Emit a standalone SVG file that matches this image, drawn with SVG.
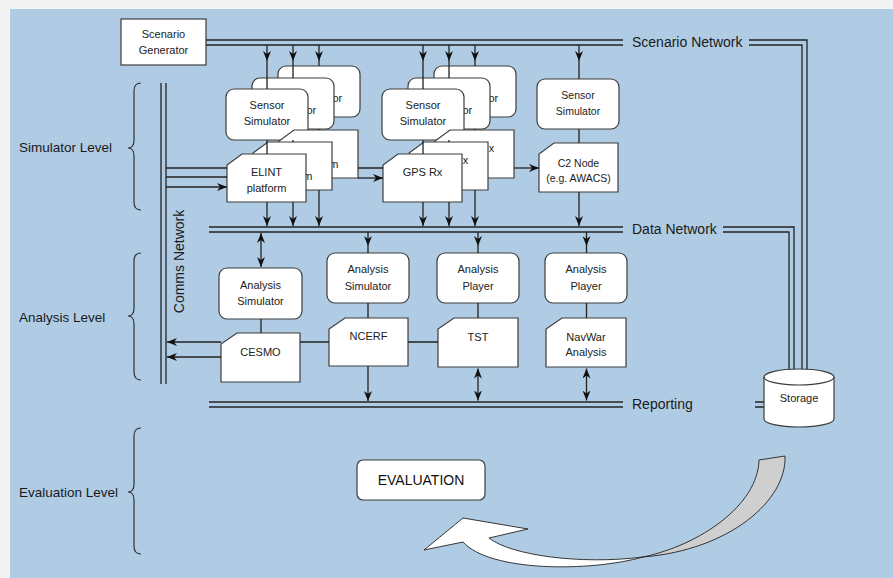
<svg xmlns="http://www.w3.org/2000/svg" width="893" height="578" viewBox="0 0 893 578">
<defs>
<marker id="ah" viewBox="0 0 10 8" refX="10" refY="4" markerWidth="10" markerHeight="8" markerUnits="userSpaceOnUse" orient="auto-start-reverse"><path d="M0,0 L10,4 L0,8 L3,4 Z" fill="#111"/></marker>
<path id="plat" d="M15,0 H79 V48 H0 V11 Z"/>
</defs>
<style>
.card{fill:#fff;stroke:#3c3c3c;stroke-width:1.2}
.t{font-family:"Liberation Sans",Arial,sans-serif;font-size:11px;fill:#222;text-anchor:middle}
.f{font-family:"Liberation Sans",Arial,sans-serif;font-size:11px;fill:#222}
.ts{font-family:"Liberation Sans",Arial,sans-serif;font-size:10.5px;fill:#222;text-anchor:middle}
.lbl{font-family:"Liberation Sans",Arial,sans-serif;font-size:13.5px;fill:#1a1a1a}
.net{font-family:"Liberation Sans",Arial,sans-serif;font-size:14px;fill:#1a1a1a}
.ln{fill:none;stroke:#222;stroke-width:1.3}
.ar{fill:none;stroke:#222;stroke-width:1.3;marker-end:url(#ah)}
.da{fill:none;stroke:#222;stroke-width:1.3;marker-start:url(#ah);marker-end:url(#ah)}
.br{fill:none;stroke:#333;stroke-width:1.2}
</style>
<rect width="893" height="578" fill="#f3f3f3"/>
<rect x="10" y="9" width="883" height="569" fill="#b0cce4"/>

<g id="labels">
<text class="lbl" x="19" y="152">Simulator Level</text>
<text class="lbl" x="19" y="322">Analysis Level</text>
<text class="lbl" x="19" y="497">Evaluation Level</text>
<path class="br" d="M141,83 Q134,83 134,91 V140 Q134,148 128,148 Q134,148 134,156 V202 Q134,210 141,210"/>
<path class="br" d="M141,253 Q134,253 134,261 V308 Q134,316 128,316 Q134,316 134,324 V372 Q134,380 141,380"/>
<path class="br" d="M141,428 Q134,428 134,436 V484 Q134,492 128,492 Q134,492 134,500 V546 Q134,554 141,554"/>
<text class="net" transform="translate(184,261.5) rotate(-90)" text-anchor="middle">Comms Network</text>
<text class="net" x="632" y="47">Scenario Network</text>
<text class="net" x="632" y="234">Data Network</text>
<text class="net" x="632" y="409">Reporting</text>
</g>

<g id="scenario-generator">
<rect class="card" x="121" y="19" width="85" height="46"/>
<text class="t" x="163.5" y="38">Scenario</text>
<text class="t" x="163.5" y="54">Generator</text>
</g>

<g id="elint-stack">
<rect class="card" x="278" y="66" width="82" height="51" rx="8"/>
<text class="f" x="332.5" y="102">or</text>
<rect class="card" x="252" y="78" width="82" height="51" rx="8"/>
<text class="f" x="306.5" y="114">or</text>
<rect class="card" x="226" y="89" width="82" height="51" rx="8"/>
<text class="t" x="267" y="109">Sensor</text><text class="t" x="267" y="125">Simulator</text>
<use href="#plat" class="card" x="279" y="130"/>
<text class="f" x="329.2" y="168">m</text>
<use href="#plat" class="card" x="253" y="142"/>
<text class="f" x="303.2" y="180">m</text>
<use href="#plat" class="card" x="227" y="154"/>
<text class="t" x="266.5" y="176">ELINT</text><text class="t" x="266.5" y="192">platform</text>
</g>

<g id="gps-stack">
<rect class="card" x="434" y="66" width="82" height="51" rx="8"/>
<text class="f" x="488.5" y="102">or</text>
<rect class="card" x="408" y="78" width="82" height="51" rx="8"/>
<text class="f" x="462.5" y="114">or</text>
<rect class="card" x="382" y="89" width="82" height="51" rx="8"/>
<text class="t" x="423" y="109">Sensor</text><text class="t" x="423" y="125">Simulator</text>
<use href="#plat" class="card" x="435" y="130"/>
<text class="f" x="488.8" y="152">x</text>
<use href="#plat" class="card" x="409" y="142"/>
<text class="f" x="462.8" y="164">x</text>
<use href="#plat" class="card" x="383" y="154"/>
<text class="t" x="422.5" y="176">GPS Rx</text>
</g>

<g id="c2-sensor">
<rect class="card" x="537" y="79" width="82" height="50" rx="8"/>
<text class="ts" x="578" y="99">Sensor</text><text class="ts" x="578" y="115">Simulator</text>
</g>
<g id="c2-node">
<path class="card" d="M554,143 H618 V192 H539 V154 Z"/>
<text class="ts" x="578.5" y="167">C2 Node</text><text class="ts" x="578.5" y="182">(e.g. AWACS)</text>
</g>

<g id="analysis-simulator-1">
<rect class="card" x="219" y="268" width="83" height="51" rx="8"/>
<text class="t" x="260.5" y="289">Analysis</text><text class="t" x="260.5" y="305">Simulator</text>
</g>
<g id="cesmo">
<path class="card" d="M237,333 H300 V382 H221 V344 Z"/>
<text class="t" x="260.5" y="356">CESMO</text>
</g>
<g id="analysis-simulator-2">
<rect class="card" x="327" y="253" width="82" height="50" rx="8"/>
<text class="t" x="368" y="273">Analysis</text><text class="t" x="368" y="290">Simulator</text>
</g>
<g id="ncerf">
<path class="card" d="M345,318 H408 V366 H329 V329 Z"/>
<text class="t" x="368.5" y="340">NCERF</text>
</g>
<g id="analysis-player-1">
<rect class="card" x="437" y="253" width="82" height="50" rx="8"/>
<text class="t" x="478" y="273">Analysis</text><text class="t" x="478" y="290">Player</text>
</g>
<g id="tst">
<path class="card" d="M454,318 H518 V367 H438 V329 Z"/>
<text class="t" x="478" y="341">TST</text>
</g>
<g id="analysis-player-2">
<rect class="card" x="545" y="253" width="82" height="50" rx="8"/>
<text class="t" x="586" y="273">Analysis</text><text class="t" x="586" y="290">Player</text>
</g>
<g id="navwar">
<path class="card" d="M562,318 H626 V367 H546 V329 Z"/>
<text class="t" x="586" y="341">NavWar</text><text class="t" x="586" y="356">Analysis</text>
</g>

<g id="connectors">
<path class="ln" d="M206,40 H623 M206,45 H623 M749,40 H807 V370 M749,45 H802 V370"/>
<path class="ln" d="M209,227 H623 M209,232 H623 M723,227 H794 V370 M723,232 H789 V370"/>
<path class="ln" d="M209,402 H623 M209,407 H623 M755,402 H764 M755,407 H764"/>
<path class="ln" d="M161,83 V384 M166,83 V384"/>
<path class="ar" d="M267,45 V61"/><path class="ar" d="M293,45 V61"/><path class="ar" d="M319,45 V61"/>
<path class="ar" d="M423,45 V61"/><path class="ar" d="M449,45 V61"/><path class="ar" d="M475,45 V61"/>
<path class="ar" d="M579,45 V61"/>
<path class="ln" d="M267,61 V89 M293,61 V78 M319,61 V66 M423,61 V89 M449,61 V78 M475,61 V66 M579,61 V79"/>
<path class="ln" d="M267,140 V154 M293,140 V142 M319,129 V130 M423,140 V154 M449,140 V142 M475,129 V130 M579,129 V143"/>
<path class="ar" d="M267,202 V226"/><path class="ar" d="M293,202 V226"/><path class="ar" d="M319,190 V226"/>
<path class="ar" d="M423,202 V226"/><path class="ar" d="M449,202 V226"/><path class="ar" d="M475,190 V226"/>
<path class="ar" d="M579,192 V226"/>
<path class="ln" d="M166,168 H227 M166,177 H227 M358,168 H383"/>
<path class="ar" d="M166,187 H227"/>
<path class="ar" d="M358,178 H383"/>
<path class="ar" d="M514,168 H539"/>
<path class="da" d="M261,233 V267"/>
<path class="ln" d="M261,319 V333"/>
<path class="ar" d="M368,232 V246"/><path class="ar" d="M478,232 V246"/><path class="ar" d="M586.5,232 V246"/>
<path class="ln" d="M368,246 V253 M478,246 V253 M586.5,246 V253 M368,303 V318 M478,303 V318 M586.5,303 V318"/>
<path class="ar" d="M368,366 V401"/>
<path class="da" d="M478,368.5 V400.5"/>
<path class="da" d="M586.5,368.5 V400.5"/>
<path class="ar" d="M221,342 H167"/>
<path class="ar" d="M221,357 H167"/>
<path class="ln" d="M300,342 H329 M408,342 H438"/>
</g>

<g id="storage">
<path class="card" d="M764,377 A35,8 0 0,1 834,377 V419 A35,8 0 0,1 764,419 Z"/>
<path fill="none" stroke="#3c3c3c" stroke-width="1.2" d="M764,377 A35,8 0 0,0 834,377"/>
<text class="t" x="799" y="402">Storage</text>
</g>

<g id="evaluation">
<rect class="card" x="357" y="460" width="128" height="40" rx="6"/>
<text x="421" y="485" font-family="'Liberation Sans',Arial,sans-serif" font-size="14" fill="#111" text-anchor="middle">EVALUATION</text>
</g>

<g id="feedback-arrow">
<path d="M643,557 C700,545 758,505 759,460 L785,456 C787,500 730,550 643,557 Z" fill="#cfcfcf" stroke="#222" stroke-width="0.9"/>
<path d="M424,550 L463,518 L528,529 L489,538 C510,555 580,565 643,557 C590,572 490,572 463,542 Z" fill="#fff" stroke="#222" stroke-width="0.9"/>
</g>
</svg>
